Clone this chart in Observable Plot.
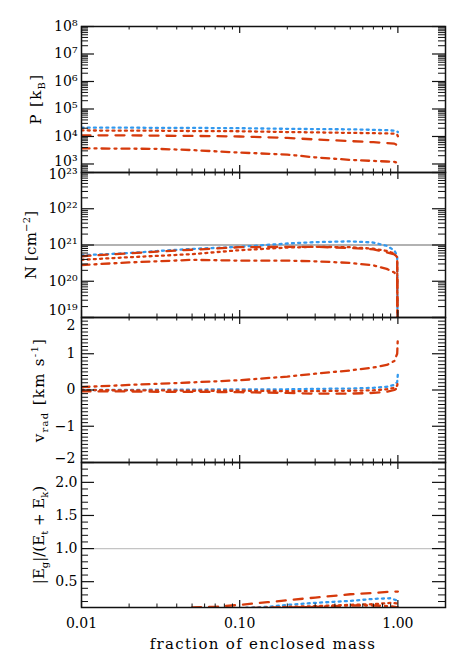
<!DOCTYPE html>
<html><head><meta charset="utf-8">
<script src="https://cdn.jsdelivr.net/npm/d3@7"></script>
<script src="https://cdn.jsdelivr.net/npm/@observablehq/plot@0.6"></script>
<style>
body{margin:0;background:#fff}
#chart{width:471px}
#chart svg{display:block;overflow:visible}
</style>
</head><body><div id="chart"></div>
<script>
// ---------------- data ----------------
const xs = [0.01, 0.02, 0.03, 0.05, 0.1, 0.2, 0.3, 0.5, 0.7, 0.85, 0.95, 0.99, 1.0];

// Panel 1: pressure P [k_B]
const pBlueDot  = [2.1e4, 2.1e4, 2.05e4, 2.05e4, 2.0e4, 1.9e4, 1.86e4, 1.82e4, 1.74e4, 1.7e4, 1.62e4, 1.51e4, 1.45e4];
const pRedDot   = [1.66e4, 1.62e4, 1.62e4, 1.58e4, 1.55e4, 1.45e4, 1.41e4, 1.35e4, 1.32e4, 1.29e4, 1.26e4, 1.17e4, 1.02e4];
const pRedDash  = [1.1e4, 1.1e4, 1.07e4, 1.05e4, 1.0e4, 8.9e3, 7.8e3, 6.8e3, 6.2e3, 5.8e3, 5.5e3, 4.8e3, 4.1e3];
const pRedDDot  = [3.7e3, 3.6e3, 3.55e3, 3.2e3, 2.6e3, 2.2e3, 1.74e3, 1.41e3, 1.29e3, 1.23e3, 1.2e3, 1.1e3, 9.3e2];

// Panel 2: column density N [cm^-2]
const nBlueDot  = [5.2e20, 6.0e20, 6.8e20, 7.8e20, 8.9e20, 1.1e21, 1.2e21, 1.26e21, 1.17e21, 9.5e20, 7.1e20, 5.0e20, 1e17];
const nRedDot   = [3.9e20, 4.6e20, 5.0e20, 5.6e20, 7.2e20, 8.5e20, 8.9e20, 8.7e20, 7.9e20, 6.9e20, 5.8e20, 4.6e20, 1e17];
const nRedDash  = [4.9e20, 5.9e20, 6.6e20, 7.4e20, 8.7e20, 8.9e20, 8.9e20, 8.3e20, 7.6e20, 6.3e20, 5.5e20, 4.6e20, 1e17];
const nRedDDot  = [2.8e20, 3.3e20, 3.55e20, 3.9e20, 3.7e20, 3.7e20, 3.55e20, 3.2e20, 2.75e20, 2.2e20, 1.75e20, 1.3e20, 1e17];

// Panel 3: radial velocity [km/s]
const vBlueDot  = [0.0, 0.0, 0.01, 0.01, 0.02, 0.02, 0.03, 0.04, 0.06, 0.09, 0.14, 0.22, 0.45];
const vRedDot   = [0.0, -0.01, -0.01, -0.02, -0.02, -0.03, -0.03, -0.02, -0.01, 0.02, 0.06, 0.12, 0.25];
const vRedDash  = [-0.04, -0.04, -0.05, -0.05, -0.06, -0.08, -0.1, -0.1, -0.08, -0.05, 0.0, 0.05, 0.1];
const vRedDDot  = [0.08, 0.14, 0.17, 0.21, 0.27, 0.37, 0.45, 0.54, 0.62, 0.69, 0.8, 1.0, 1.47];

// Panel 4: energy ratio
const xs4 = [0.05, 0.07, 0.1, 0.15, 0.2, 0.3, 0.5, 0.7, 0.9, 1.0];
const eRedDash  = [0.11, 0.12, 0.15, 0.19, 0.22, 0.26, 0.31, 0.33, 0.35, 0.35];
const eBlueDot  = [null, null, 0.10, 0.12, 0.15, 0.18, 0.21, 0.24, 0.25, 0.21];
const eRedDot   = [null, null, 0.09, 0.10, 0.12, 0.13, 0.15, 0.16, 0.18, 0.17];
const eRedDDot  = [0.08, 0.09, 0.10, 0.11, 0.11, 0.12, 0.14, 0.14, 0.13, 0.11];

// tick values
const xMajor = [0.01, 0.1, 1];
const pMajor = [1e3, 1e4, 1e5, 1e6, 1e7, 1e8];
const nMajor = [1e19, 1e20, 1e21, 1e22, 1e23];
const vMajor = [-2, -1, 0, 1, 2];
const eMajor = [0.5, 1.0, 1.5, 2.0];

// ---------------- styles ----------------
const RED = "#d63a0c", BLUE = "#3399ee";
const DOT = "2,4.2", DASH = "9,8", DDOT = "8,5,2,5";
const W = 471, ML = 81, MR = 26, IW = W - ML - MR;
const FONT = "DejaVu Serif";

const mult = [2,3,4,5,6,7,8,9];
const xMinor = xMajor.flatMap(d => mult.map(m => m * d)).filter(v => v <= 2.0001);
const logMinor = (lo, hi) => d3.range(Math.floor(Math.log10(lo)), Math.ceil(Math.log10(hi)))
  .flatMap(e => mult.map(m => m * Math.pow(10, e))).filter(v => v >= lo && v <= hi);
const linMinor = (lo, hi, step, majStep) => d3.range(Math.ceil(lo/step), Math.floor(hi/step) + 1)
  .map(i => +(i*step).toFixed(3)).filter(v => Math.abs(v/majStep - Math.round(v/majStep)) > 1e-6);

const supMap = {"0":"⁰","1":"¹","2":"²","3":"³","4":"⁴","5":"⁵","6":"⁶","7":"⁷","8":"⁸","9":"⁹","-":"⁻"};
const pow10 = d => "10" + String(Math.round(Math.log10(d))).split("").map(c => supMap[c]).join("");

function series(xv, vals, color, dash) {
  const rows = xv.map((x, i) => ({x, y: vals[i]})).filter(d => d.y != null);
  return Plot.line(rows, {x: "x", y: "y", stroke: color, strokeWidth: 2.3, strokeDasharray: dash, clip: true});
}

function panel(cfg) {
  const H = cfg.height - cfg.marginTop - cfg.marginBottom;
  const marks = [];
  if (cfg.ref) marks.push(Plot.ruleY([cfg.ref.value], {stroke: cfg.ref.color, strokeWidth: 1.3}));
  marks.push(...cfg.lines);
  marks.push(
    Plot.tickY(cfg.yMajor, {insetRight: IW - 13, stroke: "#111", strokeWidth: 1.2}),
    Plot.tickY(cfg.yMajor, {insetLeft: IW - 13, stroke: "#111", strokeWidth: 1.2}),
    Plot.tickY(cfg.yMinor, {insetRight: IW - 7, stroke: "#111", strokeWidth: 1}),
    Plot.tickY(cfg.yMinor, {insetLeft: IW - 7, stroke: "#111", strokeWidth: 1}),
    Plot.tickX(xMajor, {insetTop: H - 7, stroke: "#111", strokeWidth: 1.2}),
    Plot.tickX(xMajor, {insetBottom: H - 7, stroke: "#111", strokeWidth: 1.2}),
    Plot.tickX(xMinor, {insetTop: H - 3.5, stroke: "#111", strokeWidth: 1}),
    Plot.tickX(xMinor, {insetBottom: H - 3.5, stroke: "#111", strokeWidth: 1}),
    Plot.frame({stroke: "#111", strokeWidth: 1.5})
  );
  marks.push(...cfg.axes);
  return Plot.plot({
    width: W, height: cfg.height,
    marginLeft: ML, marginRight: MR, marginTop: cfg.marginTop, marginBottom: cfg.marginBottom,
    style: {fontFamily: FONT, fontSize: "14px", background: "none", overflow: "visible", color: "#000"},
    x: {type: "log", domain: [0.01, 2], axis: null},
    y: {...cfg.y, axis: null},
    marks
  });
}

function addLabel(svg, x, y, parts, rotate, spacing) {
  const t = d3.select(svg).append("text")
    .attr("transform", `translate(${x},${y})` + (rotate ? " rotate(-90)" : ""))
    .attr("text-anchor", "middle")
    .attr("font-family", FONT).attr("font-size", 15)
    .attr("letter-spacing", spacing + "px")
    .attr("fill", "#000");
  parts.forEach(p => {
    const s = t.append("tspan").text(p[0]);
    if (p[1] === "sub") s.attr("font-size", 10).attr("baseline-shift", "-4");
    if (p[1] === "sup") s.attr("font-size", 10).attr("baseline-shift", "6");
  });
}

const yAxisOpts = {anchor: "left", tickSize: 0, tickPadding: 5, label: null};

// Panel 1
const p1 = panel({
  height: 172, marginTop: 26, marginBottom: 0,
  y: {type: "log", domain: [490, 1e8]},
  yMajor: pMajor, yMinor: logMinor(490, 1e8),
  lines: [series(xs, pBlueDot, BLUE, DOT), series(xs, pRedDot, RED, DOT), series(xs, pRedDash, RED, DASH), series(xs, pRedDDot, RED, DDOT)],
  axes: [
    Plot.axisY(pMajor.slice(1), {...yAxisOpts, tickPadding: 4, tickFormat: pow10}),
    Plot.axisY(pMajor.slice(0, 1), {...yAxisOpts, tickPadding: 4, tickFormat: pow10, dy: -2})
  ]
});
addLabel(p1, 41, 99, [["P [k"], ["B", "sub"], ["]"]], true, 1.3);

// Panel 2
const p2 = panel({
  height: 145, marginTop: 0, marginBottom: 0,
  y: {type: "log", domain: [1e19, 1e23]},
  yMajor: nMajor, yMinor: logMinor(1e19, 1e23),
  ref: {value: 1e21, color: "#999"},
  lines: [series(xs, nBlueDot, BLUE, DOT), series(xs, nRedDot, RED, DOT), series(xs, nRedDash, RED, DASH), series(xs, nRedDDot, RED, DDOT)],
  axes: [
    Plot.axisY(nMajor.slice(1, 4), {...yAxisOpts, tickPadding: 4, tickFormat: pow10}),
    Plot.axisY(nMajor.slice(4), {...yAxisOpts, tickPadding: 4, tickFormat: pow10, dy: 2}),
    Plot.axisY(nMajor.slice(0, 1), {...yAxisOpts, tickPadding: 4, tickFormat: pow10, dy: -7})
  ]
});
addLabel(p2, 36, 73, [["N [cm"], ["−2", "sup"], ["]"]], true, 0.2);

// Panel 3
const p3 = panel({
  height: 145, marginTop: 0, marginBottom: 0,
  y: {type: "linear", domain: [-2, 2]},
  yMajor: vMajor, yMinor: linMinor(-2, 2, 0.1, 1),
  lines: [series(xs, vBlueDot, BLUE, DOT), series(xs, vRedDot, RED, DOT), series(xs, vRedDash, RED, DASH), series(xs, vRedDDot, RED, DDOT)],
  axes: [
    Plot.axisY(vMajor.slice(1, 4), {...yAxisOpts, tickPadding: 6, tickFormat: d3.format("d")}),
    Plot.axisY([vMajor[4]], {...yAxisOpts, tickPadding: 6, tickFormat: d3.format("d"), dy: 8}),
    Plot.axisY([vMajor[0]], {...yAxisOpts, tickPadding: 6, tickFormat: d3.format("d"), dy: -4})
  ]
});
addLabel(p3, 44, 73, [["v"], ["rad", "sub"], [" [km s"], ["-1", "sup"], ["]"]], true, 1.3);

// Panel 4
const p4 = panel({
  height: 200, marginTop: 0, marginBottom: 55,
  y: {type: "linear", domain: [0.11, 2.3]},
  yMajor: eMajor, yMinor: linMinor(0.11, 2.3, 0.1, 0.5),
  ref: {value: 1.0, color: "#c4c4c4"},
  lines: [series(xs4, eBlueDot, BLUE, DOT), series(xs4, eRedDot, RED, DOT), series(xs4, eRedDash, RED, DASH), series(xs4, eRedDDot, RED, DDOT)],
  axes: [
    Plot.axisY(eMajor, {...yAxisOpts, tickPadding: 4, tickFormat: d3.format(".1f")}),
    Plot.axisX(xMajor, {anchor: "bottom", tickSize: 0, tickPadding: 11, label: null, tickFormat: d3.format(".2f")})
  ]
});
addLabel(p4, 44, 73, [["|E"], ["g", "sub"], ["|/(E"], ["t", "sub"], [" + E"], ["k", "sub"], [")"]], true, 0);
addLabel(p4, 263, 187, [["fraction of enclosed mass"]], false, 1.3);

const chart = document.getElementById("chart");
[p1, p2, p3, p4].forEach(s => chart.appendChild(s));
</script>
</body></html>
